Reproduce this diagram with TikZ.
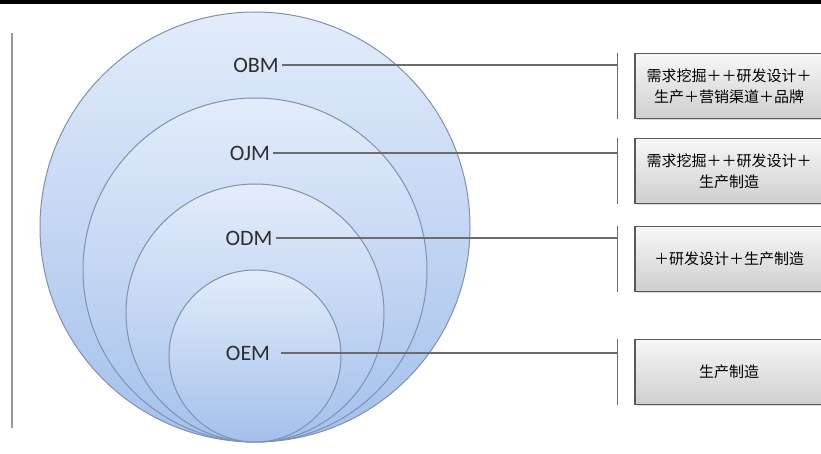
\documentclass[tikz,border=0pt]{standalone}
\usepackage{fontspec}
\setmainfont{Carlito}
\newfontfamily\cjk{Noto Sans CJK SC}
\usetikzlibrary{shadows}
\definecolor{ringline}{HTML}{7F91B0}
\definecolor{ringtop}{HTML}{E3ECFA}
\definecolor{ringbot}{HTML}{A4C0EC}
\definecolor{leadline}{HTML}{6C6C6C}
\tikzset{
  ring/.style={draw=ringline, line width=1pt, top color=ringtop, bottom color=ringbot},
  tier/.style={text=black!82, font=\fontsize{22}{26}\selectfont, inner sep=3pt},
  lead/.style={draw=leadline, line width=1.3pt},
  scopebox/.style={draw=black!65, line width=1.2pt, top color=gray!6, bottom color=gray!38,
    minimum width=188pt, minimum height=65pt, align=center, text=black,
    font=\cjk\fontsize{15}{21}\selectfont,
    drop shadow={shadow xshift=1.5pt, shadow yshift=-1.5pt, opacity=0.3}}
}
\begin{document}
\begin{tikzpicture}[x=1pt, y=1pt]

  \useasboundingbox (0,0) rectangle (821,453);
  \clip (0,0) rectangle (821,453);

  \draw[line width=3.5pt] (0,451) -- (821,451);
  \draw[gray!80, line width=1.5pt] (12,420) -- (12,25);

  \foreach \r in {215,172,129,86} {
    \draw[ring] (255,{11+\r}) circle (\r);
  }

  \node[tier] (obm) at (256,388) {OBM};
  \node[tier] (ojm) at (250,300) {OJM};
  \node[tier] (odm) at (249,215) {ODM};
  \node[tier] (oem) at (248,100) {OEM};

  \node[scopebox] (brand) at (729,367) {需求挖掘＋＋研发设计＋\\生产＋营销渠道＋品牌};
  \node[scopebox] (joint) at (729,282) {需求挖掘＋＋研发设计＋\\生产制造};
  \node[scopebox] (design) at (729,194) {＋研发设计＋生产制造};
  \node[scopebox] (equip) at (729,81) {生产制造};

  \foreach \b in {brand,joint,design,equip} {
    \draw[lead] ([xshift=-17pt]\b.north west) coordinate (\b-top) -- ([xshift=-17pt]\b.south west);
  }

  \draw[lead] (obm.east) -- (obm.east -| brand-top);
  \draw[lead] (ojm.east) -- (ojm.east -| joint-top);
  \draw[lead] (odm.east) -- (odm.east -| design-top);
  \draw[lead] ([xshift=8pt]oem.east) -- (oem.east -| equip-top);

\end{tikzpicture}
\end{document}
